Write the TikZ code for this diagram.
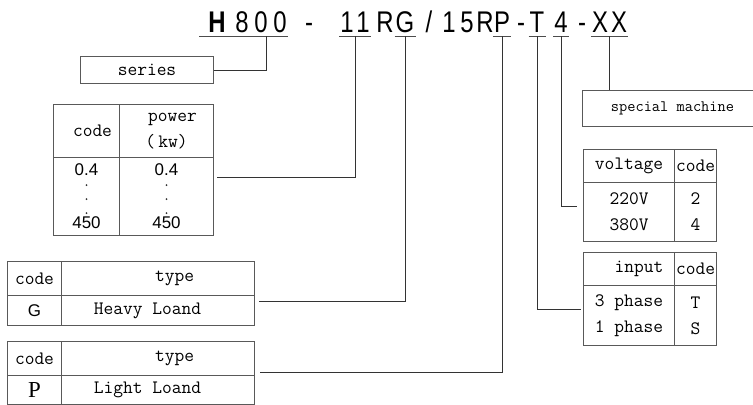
\documentclass[tikz,border=0pt]{standalone}
\usepackage{fontspec}
\newfontfamily\arialfont{Liberation Sans}
\newfontfamily\titlefont[FakeStretch=0.8]{Liberation Sans}
\newfontfamily\timesfont{Liberation Serif}
\usetikzlibrary{calc}

\begin{document}
\begin{tikzpicture}[
    x=1bp,y=-1bp,
    code part/.style={anchor=base,inner xsep=1bp,inner ysep=4bp,text depth=0pt,
      font=\titlefont\fontsize{30}{30}\selectfont},
    code line/.style={line width=1bp,draw=black!70},
    cell/.style={draw=black!65,line width=1bp,anchor=north west,inner sep=0pt,
      align=center,font=\ttfamily\fontsize{19}{26}\selectfont},
    num cell/.style={cell,font=\arialfont\fontsize{17}{53}\selectfont},
    link/.style={line width=0.9bp,draw=black!80}
  ]
  \useasboundingbox (0,0) rectangle (753,404);
  \clip (0,0) rectangle (753,404);
  % model code, one node per character
  \foreach \n/\x/\c in {nH/217/\textbf{H},n8/242/8,n0a/261/0,n0b/280/0,d1/309/-,
      n1a/347/1,n1b/363/1,nR1/385/R,nG/405/G,nSl/429/{/},n1c/449/1,n5/467/5,
      nR2/485/R,nP/502/P,d2/521/-,nT/537/T,n4/561/4,d3/582/-,nXa/600/X,nXb/619/X}
    \node[code part] (\n) at (\x,32) {\c};
  \draw[code line] ([xshift=-8bp]nH.south west) -- (n0b.south east);
  \draw[code line] (n1a.south west) -- (n1b.south east);
  \draw[code line] (nXa.south west) -- (nXb.south east);
  \foreach \p in {nG,nP,nT,n4}
    \draw[code line] (\p.south west) -- (\p.south east);

  % series
  \node[cell,minimum width=133bp,minimum height=27bp] (series) at (80,56) {series};

  % power table
  \node[cell,minimum width=66bp,minimum height=53bp] (phead1) at (53,104) {\hspace*{12bp}code};
  \node[cell,minimum width=94bp,minimum height=53bp] (phead2) at (119,104) {\hspace*{12bp}power\\(\,kw)};
  \node[num cell,minimum width=66bp,minimum height=78bp] (pbody1) at (53,157) {0.4\\450};
  \node[num cell,minimum width=94bp,minimum height=78bp] (pbody2) at (119,157) {0.4\\450};
  \foreach \d in {185,199,213}{
    \fill[black!80] (pbody1.center |- 0,\d) circle (1bp);
    \fill[black!80] (pbody2.center |- 0,\d) circle (1bp);
  }

  % load type tables
  \node[cell,minimum width=54bp,minimum height=34bp] (ghead1) at (7,261) {code};
  \node[cell,minimum width=193bp,minimum height=34bp] (ghead2) at (61,261) {\hspace*{33bp}type};
  \node[cell,minimum width=54bp,minimum height=30bp,font=\arialfont\fontsize{17}{17}\selectfont] (gcode) at (7,295) {G};
  \node[cell,minimum width=193bp,minimum height=30bp] (gtype) at (61,295) {Heavy Loand\hspace*{21bp}};

  \node[cell,minimum width=54bp,minimum height=34bp] (phd1) at (7,341) {code};
  \node[cell,minimum width=193bp,minimum height=34bp] (phd2) at (61,341) {\hspace*{33bp}type};
  \node[cell,minimum width=54bp,minimum height=29bp,font=\timesfont\fontsize{23}{23}\selectfont] (pcode) at (7,375) {P};
  \node[cell,minimum width=193bp,minimum height=29bp] (ptype) at (61,375) {Light Loand\hspace*{21bp}};

  % special machine
  \node[cell,minimum width=190bp,minimum height=36bp,font=\ttfamily\fontsize{16}{16}\selectfont] (special) at (582,90) {special machine\hspace*{10bp}};

  % voltage table
  \node[cell,minimum width=91bp,minimum height=33bp] (vhead1) at (583,149) {voltage};
  \node[cell,minimum width=42bp,minimum height=33bp] (vhead2) at (674,149) {code};
  \node[cell,minimum width=91bp,minimum height=59bp] (vbody) at (583,182) {220V\\380V};
  \node[cell,minimum width=42bp,minimum height=59bp] (vcode) at (674,182) {2\\4};

  % input table
  \node[cell,minimum width=91bp,minimum height=33bp] (ihead1) at (583,252) {\hspace*{20bp}input};
  \node[cell,minimum width=42bp,minimum height=33bp] (ihead2) at (674,252) {code};
  \node[cell,minimum width=91bp,minimum height=60bp] (ibody) at (583,285) {3 phase\\1 phase};
  \node[cell,minimum width=42bp,minimum height=60bp] (icode) at (674,285) {T\\S};

  % links
  \draw[link] ([xshift=5bp]n0a.south) |- (series.east);
  \draw[link] ($(n1a.south)!0.5!(n1b.south)$) |- ([xshift=3bp,yshift=19bp]pbody2.east);
  \draw[link] (nG.south) |- ([xshift=4bp,yshift=9bp]gtype.east);
  \draw[link] (nP.south) |- ([xshift=5bp,yshift=3bp]ptype.north east);
  \draw[link] (n4.south) |- ([xshift=-6bp,yshift=5.5bp]vbody.west);
  \draw[link] (nT.south) |- ([xshift=-2bp,yshift=6bp]ibody.west);
  \draw[link] ($(nXa.south)!0.5!(nXb.south)$) coordinate (xxmid) -- (xxmid |- special.north);
\end{tikzpicture}
\end{document}
